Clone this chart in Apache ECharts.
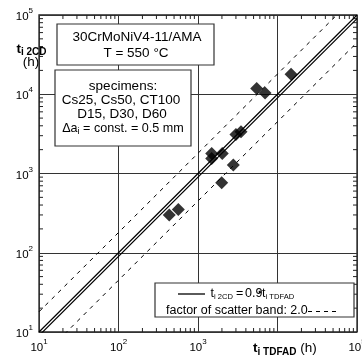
<!DOCTYPE html>
<html>
<head>
<meta charset="utf-8">
<script src="https://cdn.jsdelivr.net/npm/echarts@6/dist/echarts.min.js"></script>
<style>html,body{margin:0;padding:0;background:#fff;}#c{width:362px;height:358px;}</style>
</head>
<body>
<div id="c"></div>
<script>
// ---- data ----
const tTDFAD = [14800, 5470, 6970, 3000, 3475, 1486, 1486, 2020, 2780, 1987, 435, 565];
const t2CD   = [17900, 11800, 10400, 3110, 3360, 1790, 1550, 1790, 1276, 764, 299, 352];
const fitFactor = 0.9;          // t_i2CD = 0.9 * t_iTDFAD
const refFactor = 1.0;          // bisector
const scatterBand = 2.0;        // factor of scatter band
const lineXs = [10, 100000];
const decades = [10, 100, 1000, 10000, 100000];
const xTickExp = ['1', '2', '3', '', '5'];   // 10^4 label hidden behind axis title
const yTickExp = ['1', '2', '3', '4', '5'];
const minorMult = [2, 3, 4, 5, 6, 7, 8, 9];

const FONT = '"Liberation Sans", Arial, sans-serif';

function lineData(k) { return lineXs.map(x => [x, x * k]); }
const minorVals = [];
decades.slice(0, 4).forEach(d => minorMult.forEach(m => minorVals.push(d * m)));

function makeFormatter(exps) {
  return function (v) {
    const i = decades.findIndex(d => Math.abs(d - v) / d < 1e-6);
    if (i < 0 || !exps[i]) return '';
    return '{b|10}{s|' + exps[i] + '}';
  };
}
const labelRich = {
  b: { fontSize: 11.5, fontFamily: FONT, color: '#000', lineHeight: 16, verticalAlign: 'bottom' },
  s: { fontSize: 8, fontFamily: FONT, color: '#000', lineHeight: 8, verticalAlign: 'top' }
};

// measure helper for sequential text runs (sub/superscripts)
const mctx = document.createElement('canvas').getContext('2d');
function tw(text, font) { mctx.font = font; return mctx.measureText(text).width; }
function runs(x, y, parts, z) {
  const out = [];
  let cx = x;
  parts.forEach(p => {
    const px = (p.x != null) ? p.x : cx;
    out.push({ type: 'text', z: z || 101, x: px, y: y + (p.dy || 0),
      style: { text: p.text, font: p.font, fill: '#000', align: 'left', verticalAlign: 'middle' } });
    cx = px + tw(p.text, p.font);
  });
  return out;
}
function runsWidth(parts) { return parts.reduce((s, p) => s + tw(p.text, p.font), 0); }

const TL = 4;
function xTicks(params, api) {
  const v = api.value(0);
  const b = api.coord([v, 10]);
  const t = api.coord([v, 100000]);
  return { type: 'group', children: [
    { type: 'line', shape: { x1: b[0], y1: b[1], x2: b[0], y2: b[1] - TL }, style: { stroke: '#222', lineWidth: 1 } },
    { type: 'line', shape: { x1: t[0], y1: t[1], x2: t[0], y2: t[1] + TL }, style: { stroke: '#222', lineWidth: 1 } }
  ]};
}
function yTicks(params, api) {
  const v = api.value(1);
  const l = api.coord([10, v]);
  const r = api.coord([100000, v]);
  return { type: 'group', children: [
    { type: 'line', shape: { x1: l[0], y1: l[1], x2: l[0] + TL, y2: l[1] }, style: { stroke: '#222', lineWidth: 1 } },
    { type: 'line', shape: { x1: r[0], y1: r[1], x2: r[0] - TL, y2: r[1] }, style: { stroke: '#222', lineWidth: 1 } }
  ]};
}

const axisCommon = {
  type: 'log', logBase: 10, min: 10, max: 100000,
  axisLine: { show: false },
  axisTick: { show: false },
  minorTick: { show: false },
  splitLine: { show: true, lineStyle: { color: '#333', width: 1 } }
};

const F135 = '13.5px ' + FONT;
const F125 = '12.5px ' + FONT;
const B135 = 'bold 13.5px ' + FONT;
const B10 = 'bold 10px ' + FONT;
const F75 = '7.6px ' + FONT;
const F9 = '9px ' + FONT;

const graphics = [
  // box 1
  { type: 'rect', z: 100, shape: { x: 57, y: 24, width: 157, height: 41 }, style: { fill: '#fff', stroke: '#333', lineWidth: 1.2 } },
  { type: 'text', z: 101, x: 137, y: 37, style: { text: '30CrMoNiV4-11/AMA', font: F135, fill: '#000', align: 'center', verticalAlign: 'middle' } },
  { type: 'text', z: 101, x: 136, y: 53, style: { text: 'T = 550 °C', font: F135, fill: '#000', align: 'center', verticalAlign: 'middle' } },
  // box 2
  { type: 'rect', z: 100, shape: { x: 55, y: 70, width: 136, height: 76 }, style: { fill: '#fff', stroke: '#333', lineWidth: 1.2 } },
  { type: 'text', z: 101, x: 123, y: 86, style: { text: 'specimens:', font: F135, fill: '#000', align: 'center', verticalAlign: 'middle' } },
  { type: 'text', z: 101, x: 121, y: 100, style: { text: 'Cs25, Cs50, CT100', font: F135, fill: '#000', align: 'center', verticalAlign: 'middle' } },
  { type: 'text', z: 101, x: 122, y: 114.5, style: { text: 'D15, D30, D60', font: F135, fill: '#000', align: 'center', verticalAlign: 'middle' } },
  // legend box
  { type: 'rect', z: 100, shape: { x: 155, y: 283, width: 199, height: 34 }, style: { fill: '#fff', stroke: '#333', lineWidth: 1.2 } },
  { type: 'line', z: 101, shape: { x1: 178, y1: 294, x2: 205, y2: 294 }, style: { stroke: '#000', lineWidth: 1.3 } },
  { type: 'text', z: 101, x: 166, y: 311, style: { text: 'factor of scatter band: 2.0', font: F125, fill: '#000', align: 'left', verticalAlign: 'middle' } },
  { type: 'line', z: 101, shape: { x1: 308, y1: 311.5, x2: 336, y2: 311.5 }, style: { stroke: '#000', lineWidth: 1, lineDash: [4, 4] } },
  // y title (h)
  { type: 'text', z: 101, x: 31, y: 62.5, style: { text: '(h)', font: F135, fill: '#000', align: 'center', verticalAlign: 'middle' } }
];
// Δa_i line (centered)
const F126 = '12.6px ' + FONT;
const daParts = [{ text: 'Δa', font: F126 }, { text: 'i', font: F9, dy: 3 }, { text: ' = const. = 0.5 mm', font: F126 }];
graphics.push(...runs(123 - runsWidth(daParts) / 2, 128.5, daParts));
// legend line 1
graphics.push(...runs(210.5, 293.5, [
  { text: 't', font: F125 }, { text: 'i 2CD', font: F75, dy: 3.5, x: 214 },
  { text: '=', font: F125, x: 236 }, { text: '0.9', font: F125, x: 245 },
  { text: '·', font: 'bold 14px ' + FONT, x: 257.8 }, { text: 't', font: F125, x: 262 },
  { text: 'i TDFAD', font: F75, dy: 3.5, x: 265.5 }
]));
// y axis title
graphics.push(...runs(16.5, 49, [{ text: 't', font: B135 }, { text: 'i 2CD', font: B10, dy: 3 }]));
// x axis title
graphics.push(...runs(253, 348.5, [{ text: 't', font: B135 }, { text: 'i TDFAD', font: B10, dy: 4 }, { text: ' (h)', font: F135 }]));

const chart = echarts.init(document.getElementById('c'), null, { renderer: 'canvas' });
chart.setOption({
  animation: false,
  grid: { left: 39, right: 5, top: 15, bottom: 26, containLabel: false, outerBoundsMode: 'none',
          show: true, borderColor: '#222', borderWidth: 1.3, backgroundColor: 'transparent' },
  xAxis: Object.assign({}, axisCommon, { axisLabel: { formatter: makeFormatter(xTickExp), rich: labelRich, margin: 6, showMaxLabel: true } }),
  yAxis: Object.assign({}, axisCommon, { axisLabel: { formatter: makeFormatter(yTickExp), rich: labelRich, margin: 6 } }),
  series: [
    { type: 'custom', renderItem: xTicks, data: minorVals.map(v => [v, 100]), silent: true, z: 1 },
    { type: 'custom', renderItem: yTicks, data: minorVals.map(v => [100, v]), silent: true, z: 1 },
    { type: 'line', data: lineData(refFactor), symbol: 'none', clip: true, lineStyle: { color: '#000', width: 1.2 }, z: 3 },
    { type: 'line', data: lineData(fitFactor), symbol: 'none', clip: true, lineStyle: { color: '#000', width: 1.2 }, z: 3 },
    { type: 'line', data: lineData(fitFactor * scatterBand), symbol: 'none', clip: true, lineStyle: { color: '#000', width: 1, type: [4, 5] }, z: 3 },
    { type: 'line', data: lineData(fitFactor / scatterBand), symbol: 'none', clip: true, lineStyle: { color: '#000', width: 1, type: [4, 5] }, z: 3 },
    { type: 'scatter', data: tTDFAD.map((x, i) => [x, t2CD[i]]), symbol: 'diamond', symbolSize: 13, itemStyle: { color: '#000' }, z: 4 }
  ],
  graphic: graphics
});
</script>
</body>
</html>
